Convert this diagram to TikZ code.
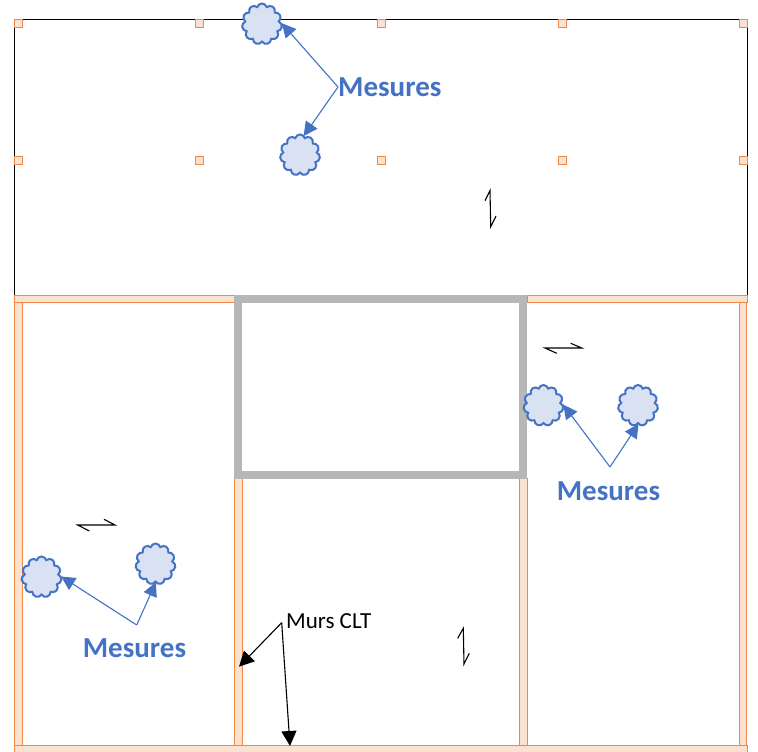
\documentclass[tikz,border=0pt]{standalone}
\usepackage{fontspec}
\setmainfont{Carlito}
\usetikzlibrary{shapes.symbols,arrows.meta}
\definecolor{wallfill}{HTML}{FBE1CF}
\definecolor{wallline}{HTML}{EE8A45}
\definecolor{bluemain}{HTML}{4472C4}
\definecolor{cloudfill}{HTML}{D9E2F3}
\definecolor{graywall}{HTML}{B7B7B7}
\tikzset{
  wall/.style={draw=wallline,fill=wallfill,line width=1pt},
  peg/.style={draw=wallline,fill=wallfill,line width=1pt,minimum size=8pt,inner sep=0pt,outer sep=0pt,rectangle},
  puff/.style={cloud,cloud puffs=11,cloud puff arc=150,aspect=1,draw=bluemain,fill=cloudfill,line width=2pt,inner sep=0pt,minimum width=40pt,minimum height=41pt},
  bluelabel/.style={text=bluemain,font=\fontsize{29}{34}\selectfont\bfseries,inner sep=0pt},
  bluearrow/.style={draw=bluemain,line width=1.1pt,-{Triangle[length=14pt,width=14pt]},shorten >=-1pt},
  blackarrow/.style={draw=black,line width=1.1pt,-{Triangle[length=15pt,width=15pt]}},
  harpoon/.style={draw=black,line width=1.1pt},
}
\begin{document}
\begin{tikzpicture}[x=1pt,y=-1pt]
\useasboundingbox (0,0) rectangle (758,752);
\fill[white] (0,0) rectangle (758,752);
% upper room
\draw[black,line width=1pt] (14.5,20) rectangle (747,296);
% CLT walls
\draw[wall] (14.5,295.5) rectangle (234.5,302.5);
\draw[wall] (527,295.5) rectangle (747,302.5);
\draw[wall] (14.5,302.5) rectangle (22.3,745.5);
\draw[wall] (739.3,302.5) rectangle (746.8,745.5);
\draw[wall] (234.5,478) rectangle (242.3,745.5);
\draw[wall] (519.5,478) rectangle (527,745.5);
\draw[wall] (14.5,745.5) rectangle (747,754);
% core
\draw[graywall,line width=8pt] (238.3,299) rectangle (523.3,474.7);
% pegs
\foreach \i/\px in {a/18.5,b/199.5,c/381,d/562,e/743}{
  \node[peg] (top\i) at (\px,24) {};
  \node[peg] (mid\i) at (\px,160) {};
}
% clouds
\node[puff] (c1) at (262,24) {};
\node[puff] (c2) at (300,155) {};
\node[puff] (c3) at (543.5,405.5) {};
\node[puff] (c4) at (638,405.5) {};
\node[puff] (c5) at (41.5,577) {};
\node[puff] (c6) at (155.5,564) {};
% labels
\node[bluelabel,anchor=west] (m1) at (338,87) {Mesures};
\node[bluelabel] (m2) at (608.5,491) {Mesures};
\node[bluelabel] (m3) at (134.5,648) {Mesures};
\node[anchor=west,inner sep=0pt,font=\fontsize{23}{27}\selectfont] (murs) at (286,621) {Murs CLT};
\coordinate (j2) at (610,467);
\coordinate (j3) at (136.7,625);
\coordinate (j4) at (281.7,622.7);
\coordinate (t4a) at (239,666.7);
\coordinate (t4b) at (290,746);
% connectors
\draw[bluearrow] (m1.west) -- (c1.east);
\draw[bluearrow] (m1.west) -- (c2.78);
\draw[bluearrow] (j2) -- (c3.east);
\draw[bluearrow] (j2) -- (c4.south);
\draw[bluearrow] (j3) -- (c5.east);
\draw[bluearrow] (j3) -- (c6.south);
\draw[blackarrow] (j4) -- (t4a);
\draw[blackarrow] (j4) -- (t4b);
% span symbols
\draw[harpoon] (485,200.7) -- (490,190.7) -- (490.7,226.7) -- (496,216);
\draw[harpoon] (457.7,638.3) -- (463.3,628.3) -- (464,664) -- (469.3,653.3);
\draw[harpoon] (556.7,353.3) -- (545,348) -- (581.7,348) -- (570.7,343.3);
\draw[harpoon] (89.3,531) -- (77.7,525) -- (115,525) -- (104,519.3);
\end{tikzpicture}
\end{document}
